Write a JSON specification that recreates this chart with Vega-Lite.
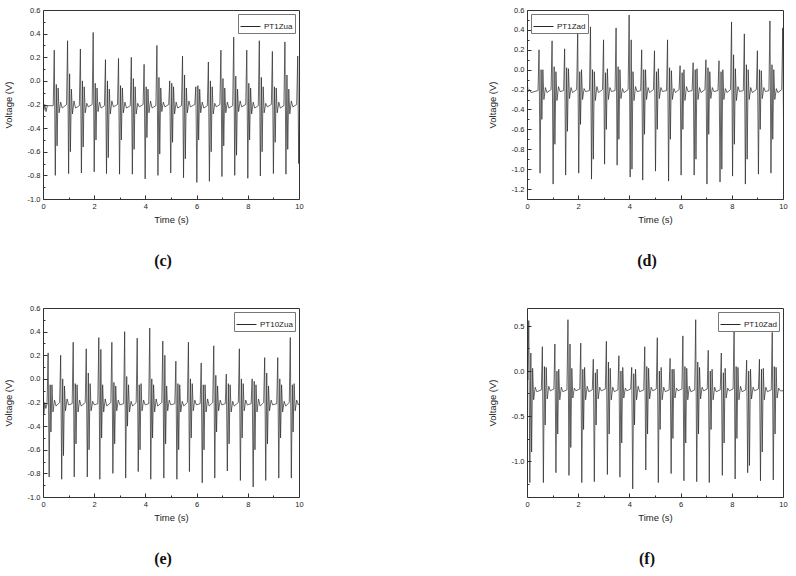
{
  "$schema": "https://vega.github.io/schema/vega-lite/v6.json",
  "padding": {"left": 3, "top": 5, "right": 5, "bottom": 5},
  "background": "white",
  "columns": 2,
  "spacing": {"row": 109, "column": 228},
  "bounds": "flush",
  "resolve": {"scale": {"color": "independent", "x": "independent", "y": "independent"}, "legend": {"color": "independent"}},
  "datasets": {
    "c": [{"t":0,"v":0},{"t":0.03,"v":-0.25},{"t":0.07,"v":-0.2},{"t":0.12,"v":-0.26},{"t":0.17,"v":-0.21},
      {"t":0.4,"v":-0.21},{"t":0.44,"v":0.26},{"t":0.48,"v":-0.8},{"t":0.52,"v":-0.03},{"t":0.55,"v":-0.55},{"t":0.59,"v":-0.06},{"t":0.63,"v":-0.27},{"t":0.69,"v":-0.18},{"t":0.75,"v":-0.23},
      {"t":0.92,"v":-0.2},{"t":0.96,"v":0.34},{"t":1.0,"v":-0.785},{"t":1.04,"v":0.06},{"t":1.07,"v":-0.6},{"t":1.11,"v":-0.07},{"t":1.15,"v":-0.28},{"t":1.21,"v":-0.17},{"t":1.27,"v":-0.23},
      {"t":1.42,"v":-0.21},{"t":1.46,"v":0.27},{"t":1.5,"v":-0.78},{"t":1.54,"v":0.0},{"t":1.57,"v":-0.56},{"t":1.61,"v":-0.05},{"t":1.65,"v":-0.27},{"t":1.71,"v":-0.19},{"t":1.77,"v":-0.22},
      {"t":1.92,"v":-0.2},{"t":1.96,"v":0.41},{"t":2.0,"v":-0.77},{"t":2.04,"v":-0.02},{"t":2.07,"v":-0.5},{"t":2.11,"v":-0.06},{"t":2.15,"v":-0.26},{"t":2.21,"v":-0.18},{"t":2.27,"v":-0.23},
      {"t":2.4,"v":-0.21},{"t":2.44,"v":0.18},{"t":2.48,"v":-0.785},{"t":2.52,"v":0.0},{"t":2.55,"v":-0.65},{"t":2.59,"v":-0.07},{"t":2.63,"v":-0.28},{"t":2.69,"v":-0.17},{"t":2.75,"v":-0.22},
      {"t":2.91,"v":-0.2},{"t":2.95,"v":0.19},{"t":2.99,"v":-0.79},{"t":3.03,"v":-0.04},{"t":3.06,"v":-0.5},{"t":3.1,"v":-0.06},{"t":3.14,"v":-0.27},{"t":3.2,"v":-0.18},{"t":3.26,"v":-0.23},
      {"t":3.41,"v":-0.21},{"t":3.45,"v":0.2},{"t":3.49,"v":-0.79},{"t":3.53,"v":0.02},{"t":3.56,"v":-0.58},{"t":3.6,"v":-0.05},{"t":3.64,"v":-0.28},{"t":3.7,"v":-0.19},{"t":3.76,"v":-0.22},
      {"t":3.91,"v":-0.2},{"t":3.95,"v":0.14},{"t":3.99,"v":-0.83},{"t":4.03,"v":-0.05},{"t":4.06,"v":-0.48},{"t":4.1,"v":-0.07},{"t":4.14,"v":-0.27},{"t":4.2,"v":-0.17},{"t":4.26,"v":-0.23},
      {"t":4.41,"v":-0.21},{"t":4.45,"v":0.3},{"t":4.49,"v":-0.8},{"t":4.53,"v":0.03},{"t":4.56,"v":-0.62},{"t":4.6,"v":-0.06},{"t":4.64,"v":-0.26},{"t":4.7,"v":-0.18},{"t":4.76,"v":-0.22},
      {"t":4.91,"v":-0.2},{"t":4.95,"v":0.0},{"t":4.99,"v":-0.78},{"t":5.03,"v":-0.02},{"t":5.06,"v":-0.52},{"t":5.1,"v":-0.05},{"t":5.14,"v":-0.28},{"t":5.2,"v":-0.18},{"t":5.26,"v":-0.23},
      {"t":5.41,"v":-0.21},{"t":5.45,"v":0.21},{"t":5.49,"v":-0.82},{"t":5.53,"v":0.05},{"t":5.56,"v":-0.66},{"t":5.6,"v":-0.06},{"t":5.64,"v":-0.27},{"t":5.7,"v":-0.17},{"t":5.76,"v":-0.22},
      {"t":5.93,"v":-0.2},{"t":5.97,"v":-0.05},{"t":6.01,"v":-0.86},{"t":6.05,"v":-0.04},{"t":6.08,"v":-0.5},{"t":6.12,"v":-0.07},{"t":6.16,"v":-0.27},{"t":6.22,"v":-0.18},{"t":6.28,"v":-0.23},
      {"t":6.42,"v":-0.21},{"t":6.46,"v":0.16},{"t":6.5,"v":-0.85},{"t":6.54,"v":0.0},{"t":6.57,"v":-0.6},{"t":6.61,"v":-0.05},{"t":6.65,"v":-0.28},{"t":6.71,"v":-0.19},{"t":6.77,"v":-0.22},
      {"t":6.91,"v":-0.2},{"t":6.95,"v":0.26},{"t":6.99,"v":-0.81},{"t":7.03,"v":0.02},{"t":7.06,"v":-0.55},{"t":7.1,"v":-0.06},{"t":7.14,"v":-0.27},{"t":7.2,"v":-0.18},{"t":7.26,"v":-0.23},
      {"t":7.41,"v":-0.21},{"t":7.45,"v":0.37},{"t":7.49,"v":-0.8},{"t":7.53,"v":0.04},{"t":7.56,"v":-0.63},{"t":7.6,"v":-0.07},{"t":7.64,"v":-0.26},{"t":7.7,"v":-0.17},{"t":7.76,"v":-0.22},
      {"t":7.92,"v":-0.2},{"t":7.96,"v":0.26},{"t":8.0,"v":-0.825},{"t":8.04,"v":-0.02},{"t":8.07,"v":-0.5},{"t":8.11,"v":-0.06},{"t":8.15,"v":-0.28},{"t":8.21,"v":-0.18},{"t":8.27,"v":-0.23},
      {"t":8.41,"v":-0.21},{"t":8.45,"v":0.34},{"t":8.49,"v":-0.805},{"t":8.53,"v":0.03},{"t":8.56,"v":-0.6},{"t":8.6,"v":-0.05},{"t":8.64,"v":-0.27},{"t":8.7,"v":-0.19},{"t":8.76,"v":-0.22},
      {"t":8.92,"v":-0.2},{"t":8.96,"v":0.25},{"t":9.0,"v":-0.785},{"t":9.04,"v":-0.05},{"t":9.07,"v":-0.52},{"t":9.11,"v":-0.06},{"t":9.15,"v":-0.27},{"t":9.21,"v":-0.18},{"t":9.27,"v":-0.23},
      {"t":9.41,"v":-0.21},{"t":9.45,"v":0.33},{"t":9.49,"v":-0.79},{"t":9.53,"v":0.05},{"t":9.56,"v":-0.58},{"t":9.6,"v":-0.07},{"t":9.64,"v":-0.28},{"t":9.7,"v":-0.17},{"t":9.76,"v":-0.22},
      {"t":9.91,"v":-0.2},{"t":9.95,"v":0.21},{"t":9.99,"v":-0.7},{"t":10.03,"v":0.0},{"t":10.06,"v":-0.5}],
    "d": [{"t":0,"v":-0.08},{"t":0.04,"v":-0.22},{"t":0.1,"v":-0.2},{"t":0.16,"v":-0.23},
      {"t":0.43,"v":-0.21},{"t":0.47,"v":0.2},{"t":0.51,"v":-1.04},{"t":0.55,"v":0.0},{"t":0.58,"v":-0.5},{"t":0.62,"v":0.0},{"t":0.66,"v":-0.3},{"t":0.72,"v":-0.18},{"t":0.78,"v":-0.23},
      {"t":0.94,"v":-0.2},{"t":0.98,"v":0.29},{"t":1.02,"v":-1.15},{"t":1.06,"v":0.03},{"t":1.09,"v":-0.75},{"t":1.13,"v":-0.02},{"t":1.17,"v":-0.31},{"t":1.23,"v":-0.17},{"t":1.29,"v":-0.22},
      {"t":1.43,"v":-0.21},{"t":1.47,"v":0.21},{"t":1.51,"v":-1.06},{"t":1.55,"v":0.02},{"t":1.58,"v":-0.62},{"t":1.62,"v":0.01},{"t":1.66,"v":-0.29},{"t":1.72,"v":-0.18},{"t":1.78,"v":-0.23},
      {"t":1.94,"v":-0.2},{"t":1.98,"v":0.38},{"t":2.02,"v":-1.04},{"t":2.06,"v":-0.02},{"t":2.09,"v":-0.55},{"t":2.13,"v":0.0},{"t":2.17,"v":-0.3},{"t":2.23,"v":-0.19},{"t":2.29,"v":-0.22},
      {"t":2.44,"v":-0.21},{"t":2.48,"v":0.43},{"t":2.52,"v":-1.1},{"t":2.56,"v":0.0},{"t":2.59,"v":-0.9},{"t":2.63,"v":-0.02},{"t":2.67,"v":-0.31},{"t":2.73,"v":-0.17},{"t":2.79,"v":-0.23},
      {"t":2.95,"v":-0.2},{"t":2.99,"v":0.3},{"t":3.03,"v":-0.95},{"t":3.07,"v":-0.03},{"t":3.1,"v":-0.6},{"t":3.14,"v":0.01},{"t":3.18,"v":-0.3},{"t":3.24,"v":-0.18},{"t":3.3,"v":-0.22},
      {"t":3.44,"v":-0.21},{"t":3.48,"v":0.42},{"t":3.52,"v":-0.96},{"t":3.56,"v":0.03},{"t":3.59,"v":-0.7},{"t":3.63,"v":0.0},{"t":3.67,"v":-0.29},{"t":3.73,"v":-0.19},{"t":3.79,"v":-0.23},
      {"t":3.95,"v":-0.2},{"t":3.99,"v":0.55},{"t":4.03,"v":-1.08},{"t":4.07,"v":0.3},{"t":4.1,"v":-1.0},{"t":4.14,"v":-0.02},{"t":4.18,"v":-0.31},{"t":4.24,"v":-0.17},{"t":4.3,"v":-0.22},
      {"t":4.44,"v":-0.21},{"t":4.48,"v":0.2},{"t":4.52,"v":-1.11},{"t":4.56,"v":0.0},{"t":4.59,"v":-0.65},{"t":4.63,"v":0.0},{"t":4.67,"v":-0.3},{"t":4.73,"v":-0.18},{"t":4.79,"v":-0.23},
      {"t":4.94,"v":-0.2},{"t":4.98,"v":0.19},{"t":5.02,"v":-1.02},{"t":5.06,"v":-0.02},{"t":5.09,"v":-0.6},{"t":5.13,"v":0.01},{"t":5.17,"v":-0.29},{"t":5.23,"v":-0.18},{"t":5.29,"v":-0.22},
      {"t":5.45,"v":-0.21},{"t":5.49,"v":0.3},{"t":5.53,"v":-1.12},{"t":5.57,"v":0.02},{"t":5.6,"v":-0.7},{"t":5.64,"v":-0.01},{"t":5.68,"v":-0.3},{"t":5.74,"v":-0.19},{"t":5.8,"v":-0.23},
      {"t":5.94,"v":-0.2},{"t":5.98,"v":0.04},{"t":6.02,"v":-1.06},{"t":6.06,"v":-0.03},{"t":6.09,"v":-0.6},{"t":6.13,"v":0.0},{"t":6.17,"v":-0.31},{"t":6.23,"v":-0.17},{"t":6.29,"v":-0.22},
      {"t":6.45,"v":-0.21},{"t":6.49,"v":0.07},{"t":6.53,"v":-1.06},{"t":6.57,"v":0.0},{"t":6.6,"v":-0.9},{"t":6.64,"v":0.01},{"t":6.68,"v":-0.3},{"t":6.74,"v":-0.18},{"t":6.8,"v":-0.23},
      {"t":6.95,"v":-0.2},{"t":6.99,"v":0.1},{"t":7.03,"v":-1.15},{"t":7.07,"v":0.02},{"t":7.1,"v":-0.65},{"t":7.14,"v":-0.02},{"t":7.18,"v":-0.29},{"t":7.24,"v":-0.18},{"t":7.3,"v":-0.22},
      {"t":7.46,"v":-0.21},{"t":7.5,"v":0.09},{"t":7.54,"v":-1.13},{"t":7.58,"v":-0.02},{"t":7.61,"v":-1.0},{"t":7.65,"v":0.0},{"t":7.69,"v":-0.3},{"t":7.75,"v":-0.19},{"t":7.81,"v":-0.23},
      {"t":7.95,"v":-0.2},{"t":7.99,"v":0.48},{"t":8.03,"v":-1.07},{"t":8.07,"v":0.15},{"t":8.1,"v":-0.75},{"t":8.14,"v":0.01},{"t":8.18,"v":-0.31},{"t":8.24,"v":-0.17},{"t":8.3,"v":-0.22},
      {"t":8.45,"v":-0.21},{"t":8.49,"v":0.36},{"t":8.53,"v":-1.15},{"t":8.57,"v":0.05},{"t":8.6,"v":-0.9},{"t":8.64,"v":0.0},{"t":8.68,"v":-0.3},{"t":8.74,"v":-0.18},{"t":8.8,"v":-0.23},
      {"t":8.96,"v":-0.2},{"t":9.0,"v":0.19},{"t":9.04,"v":-1.05},{"t":9.08,"v":0.0},{"t":9.11,"v":-0.6},{"t":9.15,"v":-0.01},{"t":9.19,"v":-0.29},{"t":9.25,"v":-0.18},{"t":9.31,"v":-0.22},
      {"t":9.45,"v":-0.21},{"t":9.49,"v":0.49},{"t":9.53,"v":-1.04},{"t":9.57,"v":0.05},{"t":9.6,"v":-0.7},{"t":9.64,"v":0.0},{"t":9.68,"v":-0.3},{"t":9.74,"v":-0.19},{"t":9.8,"v":-0.23},
      {"t":9.95,"v":-0.2},{"t":9.99,"v":0.42},{"t":10.03,"v":-0.84}],
    "e": [{"t":0,"v":0.0},{"t":0.03,"v":-0.3},{"t":0.07,"v":-0.2},{"t":0.11,"v":-0.25},
      {"t":0.16,"v":-0.21},{"t":0.2,"v":0.22},{"t":0.24,"v":-0.83},{"t":0.28,"v":-0.05},{"t":0.31,"v":-0.45},{"t":0.35,"v":-0.05},{"t":0.39,"v":-0.28},{"t":0.45,"v":-0.18},{"t":0.51,"v":-0.23},
      {"t":0.65,"v":-0.2},{"t":0.69,"v":0.2},{"t":0.73,"v":-0.85},{"t":0.77,"v":0.0},{"t":0.8,"v":-0.65},{"t":0.84,"v":-0.06},{"t":0.88,"v":-0.27},{"t":0.94,"v":-0.17},{"t":1.0,"v":-0.22},
      {"t":1.14,"v":-0.21},{"t":1.18,"v":0.31},{"t":1.22,"v":-0.83},{"t":1.26,"v":-0.04},{"t":1.29,"v":-0.55},{"t":1.33,"v":-0.05},{"t":1.37,"v":-0.28},{"t":1.43,"v":-0.18},{"t":1.49,"v":-0.23},
      {"t":1.65,"v":-0.2},{"t":1.69,"v":0.255},{"t":1.73,"v":-0.83},{"t":1.77,"v":0.05},{"t":1.8,"v":-0.6},{"t":1.84,"v":-0.04},{"t":1.88,"v":-0.27},{"t":1.94,"v":-0.19},{"t":2.0,"v":-0.22},
      {"t":2.14,"v":-0.21},{"t":2.18,"v":0.35},{"t":2.22,"v":-0.85},{"t":2.26,"v":0.25},{"t":2.29,"v":-0.5},{"t":2.33,"v":-0.05},{"t":2.37,"v":-0.28},{"t":2.43,"v":-0.17},{"t":2.49,"v":-0.23},
      {"t":2.65,"v":-0.2},{"t":2.69,"v":0.31},{"t":2.73,"v":-0.8},{"t":2.77,"v":-0.03},{"t":2.8,"v":-0.55},{"t":2.84,"v":-0.06},{"t":2.88,"v":-0.27},{"t":2.94,"v":-0.18},{"t":3.0,"v":-0.22},
      {"t":3.15,"v":-0.21},{"t":3.19,"v":0.4},{"t":3.23,"v":-0.84},{"t":3.27,"v":0.02},{"t":3.3,"v":-0.4},{"t":3.34,"v":-0.05},{"t":3.38,"v":-0.28},{"t":3.44,"v":-0.19},{"t":3.5,"v":-0.23},
      {"t":3.64,"v":-0.2},{"t":3.68,"v":0.345},{"t":3.72,"v":-0.785},{"t":3.76,"v":-0.05},{"t":3.79,"v":-0.6},{"t":3.83,"v":-0.04},{"t":3.87,"v":-0.27},{"t":3.93,"v":-0.18},{"t":3.99,"v":-0.22},
      {"t":4.13,"v":-0.21},{"t":4.17,"v":0.43},{"t":4.21,"v":-0.85},{"t":4.25,"v":0.0},{"t":4.28,"v":-0.5},{"t":4.32,"v":-0.05},{"t":4.36,"v":-0.28},{"t":4.42,"v":-0.17},{"t":4.48,"v":-0.23},
      {"t":4.64,"v":-0.2},{"t":4.68,"v":0.32},{"t":4.72,"v":-0.84},{"t":4.76,"v":0.2},{"t":4.79,"v":-0.55},{"t":4.83,"v":-0.06},{"t":4.87,"v":-0.27},{"t":4.93,"v":-0.18},{"t":4.99,"v":-0.22},
      {"t":5.15,"v":-0.21},{"t":5.19,"v":0.15},{"t":5.23,"v":-0.85},{"t":5.27,"v":-0.04},{"t":5.3,"v":-0.6},{"t":5.34,"v":-0.05},{"t":5.38,"v":-0.28},{"t":5.44,"v":-0.19},{"t":5.5,"v":-0.23},
      {"t":5.64,"v":-0.2},{"t":5.68,"v":0.31},{"t":5.72,"v":-0.785},{"t":5.76,"v":0.0},{"t":5.79,"v":-0.5},{"t":5.83,"v":-0.04},{"t":5.87,"v":-0.27},{"t":5.93,"v":-0.18},{"t":5.99,"v":-0.22},
      {"t":6.14,"v":-0.21},{"t":6.18,"v":0.135},{"t":6.22,"v":-0.88},{"t":6.26,"v":-0.05},{"t":6.29,"v":-0.6},{"t":6.33,"v":-0.05},{"t":6.37,"v":-0.28},{"t":6.43,"v":-0.17},{"t":6.49,"v":-0.23},
      {"t":6.63,"v":-0.2},{"t":6.67,"v":0.28},{"t":6.71,"v":-0.84},{"t":6.75,"v":0.03},{"t":6.78,"v":-0.45},{"t":6.82,"v":-0.06},{"t":6.86,"v":-0.27},{"t":6.92,"v":-0.18},{"t":6.98,"v":-0.22},
      {"t":7.12,"v":-0.21},{"t":7.16,"v":0.04},{"t":7.2,"v":-0.78},{"t":7.24,"v":-0.04},{"t":7.27,"v":-0.55},{"t":7.31,"v":-0.05},{"t":7.35,"v":-0.28},{"t":7.41,"v":-0.19},{"t":7.47,"v":-0.23},
      {"t":7.63,"v":-0.2},{"t":7.67,"v":0.255},{"t":7.71,"v":-0.86},{"t":7.75,"v":0.0},{"t":7.78,"v":-0.5},{"t":7.82,"v":-0.04},{"t":7.86,"v":-0.27},{"t":7.92,"v":-0.18},{"t":7.98,"v":-0.22},
      {"t":8.13,"v":-0.21},{"t":8.17,"v":0.0},{"t":8.21,"v":-0.915},{"t":8.25,"v":-0.02},{"t":8.28,"v":-0.6},{"t":8.32,"v":-0.05},{"t":8.36,"v":-0.28},{"t":8.42,"v":-0.17},{"t":8.48,"v":-0.23},
      {"t":8.62,"v":-0.2},{"t":8.66,"v":0.18},{"t":8.7,"v":-0.86},{"t":8.74,"v":0.05},{"t":8.77,"v":-0.55},{"t":8.81,"v":-0.06},{"t":8.85,"v":-0.27},{"t":8.91,"v":-0.18},{"t":8.97,"v":-0.22},
      {"t":9.13,"v":-0.21},{"t":9.17,"v":0.18},{"t":9.21,"v":-0.84},{"t":9.25,"v":0.0},{"t":9.28,"v":-0.5},{"t":9.32,"v":-0.05},{"t":9.36,"v":-0.28},{"t":9.42,"v":-0.19},{"t":9.48,"v":-0.23},
      {"t":9.62,"v":-0.2},{"t":9.66,"v":0.35},{"t":9.7,"v":-0.84},{"t":9.74,"v":-0.05},{"t":9.77,"v":-0.45},{"t":9.81,"v":-0.04},{"t":9.85,"v":-0.27},{"t":9.91,"v":-0.18},{"t":9.97,"v":-0.22},{"t":10,"v":-0.21}],
    "f": [{"t":0,"v":0.2},{"t":0.03,"v":-0.1},
      {"t":0.07,"v":0.56},{"t":0.11,"v":-1.24},{"t":0.15,"v":0.2},{"t":0.18,"v":-0.9},{"t":0.22,"v":0.03},{"t":0.26,"v":-0.32},{"t":0.32,"v":-0.18},{"t":0.38,"v":-0.23},
      {"t":0.56,"v":-0.21},{"t":0.6,"v":0.27},{"t":0.64,"v":-1.24},{"t":0.68,"v":0.05},{"t":0.71,"v":-0.6},{"t":0.75,"v":0.04},{"t":0.79,"v":-0.31},{"t":0.85,"v":-0.17},{"t":0.91,"v":-0.22},
      {"t":1.05,"v":-0.2},{"t":1.09,"v":0.3},{"t":1.13,"v":-1.13},{"t":1.17,"v":0.0},{"t":1.2,"v":-0.7},{"t":1.24,"v":0.02},{"t":1.28,"v":-0.32},{"t":1.34,"v":-0.18},{"t":1.4,"v":-0.23},
      {"t":1.56,"v":-0.21},{"t":1.6,"v":0.57},{"t":1.64,"v":-1.16},{"t":1.68,"v":0.3},{"t":1.71,"v":-0.85},{"t":1.75,"v":0.03},{"t":1.79,"v":-0.3},{"t":1.85,"v":-0.19},{"t":1.91,"v":-0.22},
      {"t":2.06,"v":-0.2},{"t":2.1,"v":0.31},{"t":2.14,"v":-1.24},{"t":2.18,"v":0.02},{"t":2.21,"v":-0.65},{"t":2.25,"v":0.04},{"t":2.29,"v":-0.32},{"t":2.35,"v":-0.17},{"t":2.41,"v":-0.23},
      {"t":2.55,"v":-0.21},{"t":2.59,"v":0.13},{"t":2.63,"v":-1.23},{"t":2.67,"v":-0.02},{"t":2.7,"v":-0.6},{"t":2.74,"v":0.02},{"t":2.78,"v":-0.31},{"t":2.84,"v":-0.18},{"t":2.9,"v":-0.22},
      {"t":3.06,"v":-0.2},{"t":3.1,"v":0.33},{"t":3.14,"v":-1.15},{"t":3.18,"v":0.1},{"t":3.21,"v":-0.7},{"t":3.25,"v":0.03},{"t":3.29,"v":-0.32},{"t":3.35,"v":-0.18},{"t":3.41,"v":-0.23},
      {"t":3.55,"v":-0.21},{"t":3.59,"v":0.17},{"t":3.63,"v":-1.18},{"t":3.67,"v":0.0},{"t":3.7,"v":-0.8},{"t":3.74,"v":0.04},{"t":3.78,"v":-0.3},{"t":3.84,"v":-0.19},{"t":3.9,"v":-0.22},
      {"t":4.05,"v":-0.2},{"t":4.09,"v":0.04},{"t":4.13,"v":-1.31},{"t":4.17,"v":-0.03},{"t":4.2,"v":-0.6},{"t":4.24,"v":0.02},{"t":4.28,"v":-0.32},{"t":4.34,"v":-0.17},{"t":4.4,"v":-0.23},
      {"t":4.56,"v":-0.21},{"t":4.6,"v":0.27},{"t":4.64,"v":-1.1},{"t":4.68,"v":0.05},{"t":4.71,"v":-0.7},{"t":4.75,"v":0.03},{"t":4.79,"v":-0.31},{"t":4.85,"v":-0.18},{"t":4.91,"v":-0.22},
      {"t":5.05,"v":-0.2},{"t":5.09,"v":0.37},{"t":5.13,"v":-1.24},{"t":5.17,"v":0.0},{"t":5.2,"v":-0.65},{"t":5.24,"v":0.04},{"t":5.28,"v":-0.32},{"t":5.34,"v":-0.18},{"t":5.4,"v":-0.23},
      {"t":5.55,"v":-0.21},{"t":5.59,"v":0.14},{"t":5.63,"v":-1.14},{"t":5.67,"v":0.02},{"t":5.7,"v":-0.75},{"t":5.74,"v":0.02},{"t":5.78,"v":-0.3},{"t":5.84,"v":-0.19},{"t":5.9,"v":-0.22},
      {"t":6.05,"v":-0.2},{"t":6.09,"v":0.39},{"t":6.13,"v":-1.22},{"t":6.17,"v":0.05},{"t":6.2,"v":-0.8},{"t":6.24,"v":0.03},{"t":6.28,"v":-0.32},{"t":6.34,"v":-0.17},{"t":6.4,"v":-0.23},
      {"t":6.55,"v":-0.21},{"t":6.59,"v":0.57},{"t":6.63,"v":-1.23},{"t":6.67,"v":0.1},{"t":6.7,"v":-0.7},{"t":6.74,"v":0.04},{"t":6.78,"v":-0.31},{"t":6.84,"v":-0.18},{"t":6.9,"v":-0.22},
      {"t":7.04,"v":-0.2},{"t":7.08,"v":0.23},{"t":7.12,"v":-1.24},{"t":7.16,"v":0.0},{"t":7.19,"v":-0.65},{"t":7.23,"v":0.02},{"t":7.27,"v":-0.32},{"t":7.33,"v":-0.18},{"t":7.39,"v":-0.23},
      {"t":7.55,"v":-0.21},{"t":7.59,"v":0.2},{"t":7.63,"v":-1.16},{"t":7.67,"v":-0.02},{"t":7.7,"v":-0.8},{"t":7.74,"v":0.03},{"t":7.78,"v":-0.3},{"t":7.84,"v":-0.19},{"t":7.9,"v":-0.22},
      {"t":8.05,"v":-0.2},{"t":8.09,"v":0.49},{"t":8.13,"v":-1.2},{"t":8.17,"v":0.05},{"t":8.2,"v":-0.75},{"t":8.24,"v":0.04},{"t":8.28,"v":-0.32},{"t":8.34,"v":-0.17},{"t":8.4,"v":-0.23},
      {"t":8.54,"v":-0.21},{"t":8.58,"v":0.12},{"t":8.62,"v":-1.13},{"t":8.66,"v":0.0},{"t":8.69,"v":-1.05},{"t":8.73,"v":0.02},{"t":8.77,"v":-0.31},{"t":8.83,"v":-0.18},{"t":8.89,"v":-0.22},
      {"t":9.04,"v":-0.2},{"t":9.08,"v":0.13},{"t":9.12,"v":-1.22},{"t":9.16,"v":0.02},{"t":9.19,"v":-0.9},{"t":9.23,"v":0.03},{"t":9.27,"v":-0.32},{"t":9.33,"v":-0.18},{"t":9.39,"v":-0.23},
      {"t":9.54,"v":-0.21},{"t":9.58,"v":0.43},{"t":9.62,"v":-1.21},{"t":9.66,"v":0.05},{"t":9.69,"v":-0.7},{"t":9.73,"v":0.04},{"t":9.77,"v":-0.3},{"t":9.83,"v":-0.19},{"t":9.89,"v":-0.22},{"t":10,"v":-0.22}]
  },
  "concat": [
    {
      "width": 256, "height": 189,
      "data": {"name": "c"},
      "title": {"text": "(c)"},
      "mark": {"type": "line", "clip": true, "strokeWidth": 0.7},
      "encoding": {
        "x": {"field": "t", "type": "quantitative", "scale": {"domain": [0, 10], "nice": false},
          "axis": {"title": "Time (s)", "values": [0,1,2,3,4,5,6,7,8,9,10], "labelExpr": "round(datum.value) % 2 == 0 ? datum.label : ''",
            "tickSize": {"condition": {"test": "round(datum.value) % 2 == 0", "value": -4}, "value": -2}}},
        "y": {"field": "v", "type": "quantitative", "scale": {"domain": [-1.0, 0.6], "nice": false, "zero": false},
          "axis": {"title": "Voltage (V)", "format": ".1f", "values": [-1,-0.9,-0.8,-0.7,-0.6,-0.5,-0.4,-0.3,-0.2,-0.1,0,0.1,0.2,0.3,0.4,0.5,0.6],
            "labelExpr": "abs(round(datum.value*10)) % 2 == 0 ? replace(datum.label, '\u2212', '-') : ''",
            "tickSize": {"condition": {"test": "abs(round(datum.value*10)) % 2 == 0", "value": -4}, "value": -2}}},
        "color": {"datum": "PT1Zua", "type": "nominal", "scale": {"range": ["#262626"]}, "legend": {"title": null, "orient": "top-right"}}
      }
    },
    {
      "width": 256, "height": 189,
      "data": {"name": "d"},
      "title": {"text": "(d)"},
      "mark": {"type": "line", "clip": true, "strokeWidth": 0.7},
      "encoding": {
        "x": {"field": "t", "type": "quantitative", "scale": {"domain": [0, 10], "nice": false},
          "axis": {"title": "Time (s)", "values": [0,1,2,3,4,5,6,7,8,9,10], "labelExpr": "round(datum.value) % 2 == 0 ? datum.label : ''",
            "tickSize": {"condition": {"test": "round(datum.value) % 2 == 0", "value": -4}, "value": -2}}},
        "y": {"field": "v", "type": "quantitative", "scale": {"domain": [-1.3, 0.6], "nice": false, "zero": false},
          "axis": {"title": "Voltage (V)", "format": ".1f", "values": [-1.3,-1.2,-1.1,-1,-0.9,-0.8,-0.7,-0.6,-0.5,-0.4,-0.3,-0.2,-0.1,0,0.1,0.2,0.3,0.4,0.5,0.6],
            "labelExpr": "abs(round(datum.value*10)) % 2 == 0 ? replace(datum.label, '\u2212', '-') : ''",
            "tickSize": {"condition": {"test": "abs(round(datum.value*10)) % 2 == 0", "value": -4}, "value": -2}}},
        "color": {"datum": "PT1Zad", "type": "nominal", "scale": {"range": ["#262626"]}, "legend": {"title": null, "orient": "top-left"}}
      }
    },
    {
      "width": 256, "height": 189,
      "data": {"name": "e"},
      "title": {"text": "(e)"},
      "mark": {"type": "line", "clip": true, "strokeWidth": 0.7},
      "encoding": {
        "x": {"field": "t", "type": "quantitative", "scale": {"domain": [0, 10], "nice": false},
          "axis": {"title": "Time (s)", "values": [0,1,2,3,4,5,6,7,8,9,10], "labelExpr": "round(datum.value) % 2 == 0 ? datum.label : ''",
            "tickSize": {"condition": {"test": "round(datum.value) % 2 == 0", "value": -4}, "value": -2}}},
        "y": {"field": "v", "type": "quantitative", "scale": {"domain": [-1.0, 0.6], "nice": false, "zero": false},
          "axis": {"title": "Voltage (V)", "format": ".1f", "values": [-1,-0.9,-0.8,-0.7,-0.6,-0.5,-0.4,-0.3,-0.2,-0.1,0,0.1,0.2,0.3,0.4,0.5,0.6],
            "labelExpr": "abs(round(datum.value*10)) % 2 == 0 ? replace(datum.label, '\u2212', '-') : ''",
            "tickSize": {"condition": {"test": "abs(round(datum.value*10)) % 2 == 0", "value": -4}, "value": -2}}},
        "color": {"datum": "PT10Zua", "type": "nominal", "scale": {"range": ["#262626"]}, "legend": {"title": null, "orient": "top-right"}}
      }
    },
    {
      "width": 256, "height": 189,
      "data": {"name": "f"},
      "title": {"text": "(f)"},
      "mark": {"type": "line", "clip": true, "strokeWidth": 0.7},
      "encoding": {
        "x": {"field": "t", "type": "quantitative", "scale": {"domain": [0, 10], "nice": false},
          "axis": {"title": "Time (s)", "values": [0,1,2,3,4,5,6,7,8,9,10], "labelExpr": "round(datum.value) % 2 == 0 ? datum.label : ''",
            "tickSize": {"condition": {"test": "round(datum.value) % 2 == 0", "value": -4}, "value": -2}}},
        "y": {"field": "v", "type": "quantitative", "scale": {"domain": [-1.4, 0.7], "nice": false, "zero": false},
          "axis": {"title": "Voltage (V)", "format": ".1f", "values": [-1.25,-1,-0.75,-0.5,-0.25,0,0.25,0.5],
            "labelExpr": "abs(round(datum.value*4)) % 2 == 0 ? replace(datum.label, '\u2212', '-') : ''",
            "tickSize": {"condition": {"test": "abs(round(datum.value*4)) % 2 == 0", "value": -4}, "value": -2}}},
        "color": {"datum": "PT10Zad", "type": "nominal", "scale": {"range": ["#262626"]}, "legend": {"title": null, "orient": "top-right"}}
      }
    }
  ],
  "config": {
    "font": "Liberation Sans",
    "view": {"stroke": "#333", "strokeWidth": 1},
    "axis": {"grid": false, "domain": false, "labelFont": "Liberation Sans", "labelFontSize": 7.5, "labelColor": "#222",
      "titleFont": "Liberation Sans", "titleFontSize": 9.5, "titleFontWeight": "normal", "titleColor": "#222",
      "tickColor": "#333", "labelPadding": 7, "labelOverlap": false, "labelFlush": false},
    "axisY": {"titlePadding": 13.5},
    "axisX": {"titlePadding": 3},
    "legend": {"offset": 4, "padding": 2, "strokeColor": "#777", "fillColor": "white", "symbolType": "stroke", "symbolSize": 400,
      "symbolStrokeWidth": 1, "labelFont": "Liberation Sans", "labelFontSize": 8, "labelOffset": 3, "labelColor": "#222"},
    "title": {"font": "Liberation Serif", "fontSize": 16, "fontWeight": "bold", "orient": "bottom", "offset": 29, "color": "#111", "dx": -8}
  }
}
